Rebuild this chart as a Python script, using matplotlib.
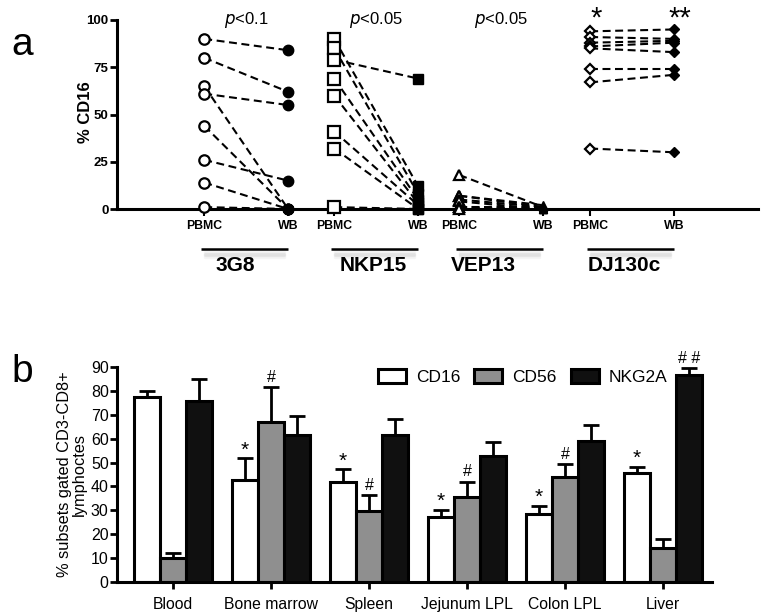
import matplotlib
matplotlib.use("Agg")
import matplotlib.pyplot as plt
import numpy as np

plt.rcParams['font.family'] = ['Liberation Sans', 'DejaVu Sans']

# ---------------- Panel a data ----------------
groups = ["3G8", "NKP15", "VEP13", "DJ130c"]
pvals = ["<0.1", "<0.05", "<0.05", None]
g3_pbmc = [90, 80, 65, 61, 44, 26, 14, 1]
g3_wb = [84, 62, 0, 55, 0, 15, 0, 0]
nk_pbmc = [90, 85, 79, 69, 60, 41, 32, 1]
nk_wb = [12, 8, 69, 5, 3, 2, 0, 0]
vep_pbmc = [18, 7, 7, 5, 4, 1, 1, 0]
vep_wb = [1, 2, 1, 1, 0, 0, 1, 0]
dj_pbmc = [94, 91, 88, 86, 85, 74, 67, 32]
dj_wb = [95, 90, 89, 88, 83, 74, 71, 30]
conditions = ["PBMC", "WB"]

# ---------------- Panel b data ----------------
tissues = ["Blood", "Bone marrow", "Spleen", "Jejunum LPL", "Colon LPL", "Liver"]
cd16 = [77.7, 42.7, 42.0, 27.3, 28.3, 45.8]
cd16_err = [2.5, 9.1, 5.2, 2.8, 3.5, 2.5]
cd56 = [9.8, 66.9, 29.8, 35.4, 43.8, 14.0]
cd56_err = [2.1, 14.7, 6.6, 6.6, 5.5, 3.8]
nkg2a = [76.0, 61.6, 61.6, 52.8, 58.9, 86.8]
nkg2a_err = [9.0, 8.0, 6.6, 5.7, 6.9, 2.8]
cd16_sig = ["", "*", "*", "*", "*", "*"]
cd56_sig = ["", "#", "#", "#", "#", ""]
nkg2a_sig = ["", "", "", "", "", "# #"]

W, H = 764, 615
fig = plt.figure(figsize=(W / 100, H / 100), dpi=100)

def frac(x0, y0, x1, y1):
    return [x0 / W, 1 - y1 / H, (x1 - x0) / W, (y1 - y0) / H]

# ================= Panel a =================
ax = fig.add_axes(frac(117, 20, 758, 209))
xpos = [(1, 2), (2.55, 3.55), (4.04, 5.04), (5.6, 6.6)]
label_off = [0.37, 0.46, 0.29, 0.40]
data = [(g3_pbmc, g3_wb), (nk_pbmc, nk_wb), (vep_pbmc, vep_wb), (dj_pbmc, dj_wb)]
mk = ["o", "s", "^", "D"]
msz = [7.5, 8, 7, 5.5]
msz_wb = [7.5, 7, 6, 4.8]
for (xp, xw), (pb, wb), m, s, sw in zip(xpos, data, mk, msz, msz_wb):
    for a, b in zip(pb, wb):
        ax.plot([xp, xw], [a, b], ls=(0, (3.8, 2.2)), color="black", lw=1.5,
                clip_on=False, zorder=2)
    ax.plot([xp] * len(pb), pb, ls="none", marker=m, ms=s, mfc="white",
            mec="black", mew=1.6, clip_on=False, zorder=3)
    ax.plot([xw] * len(wb), wb, ls="none", marker=m, ms=sw, mfc="black",
            mec="black", mew=1.0, clip_on=False, zorder=3)

ax.set_xlim(-0.04, 7.6)
ax.set_ylim(0, 100)
ax.set_yticks([0, 25, 50, 75, 100])
ax.set_yticklabels(["0", "25", "50", "75", "100"], fontsize=9.5, fontweight="bold")
ticks = [x for pair in xpos for x in pair]
ax.set_xticks(ticks)
ax.set_xticklabels(conditions * 4, fontsize=8.8, fontweight="bold")
for sp in ["top", "right"]:
    ax.spines[sp].set_visible(False)
for sp in ["left", "bottom"]:
    ax.spines[sp].set_linewidth(2.2)
ax.tick_params(axis="y", length=5, width=2, pad=1)
ax.tick_params(axis="x", length=5, width=1.5, pad=3)
ax.set_ylabel("% CD16", fontsize=12, fontweight="bold")
ax.yaxis.set_label_coords(-0.037, 0.51)

tr = ax.get_xaxis_transform()
for (xp, xw), g, p, lo in zip(xpos, groups, pvals, label_off):
    x0 = xp - 0.04
    x1 = xw
    for dy, al in [(-0.228, 0.10), (-0.236, 0.14), (-0.244, 0.14), (-0.252, 0.09)]:
        ax.plot([x0 + 0.05, x1 - 0.05], [dy, dy], transform=tr, color="#9a9a9a", lw=2.5,
                alpha=al, clip_on=False, solid_capstyle="round")
    ax.plot([x0, x1], [-0.212, -0.212], transform=tr, color="black", lw=1.8,
            clip_on=False, solid_capstyle="butt")
    ax.text(xp + lo, -0.30, g, transform=tr, ha="center", va="center",
            fontsize=15, fontweight="bold")
    if p is not None:
        ax.text((xp + xw) / 2, 1.0, r"$\it{p}$" + p, transform=tr, ha="center",
                va="center", fontsize=12)
ax.text(xpos[3][0] + 0.07, 1.01, "*", transform=tr, ha="center", va="center", fontsize=21)
ax.text(xpos[3][1] + 0.07, 1.01, "**", transform=tr, ha="center", va="center", fontsize=21)

fig.text(22 / W, 1 - 45 / H, "a", fontsize=28, ha="center", va="center")

# ================= Panel b =================
bx = fig.add_axes(frac(117, 367.3, 712, 581.7))
x = np.arange(len(tissues))
bw = 0.26
offs = [-0.265, 0.0, 0.265]
series = [(cd16, cd16_err, "white", cd16_sig, "CD16"),
          (cd56, cd56_err, "#8f8f8f", cd56_sig, "CD56"),
          (nkg2a, nkg2a_err, "#101010", nkg2a_sig, "NKG2A")]
for (vals, errs, col, sig, lab), o in zip(series, offs):
    bx.bar(x + o, vals, width=bw, color=col, edgecolor="black", linewidth=2.2,
           yerr=[np.zeros(len(errs)), errs], capsize=5.5,
           error_kw=dict(elinewidth=2, capthick=2, ecolor="black"),
           label=lab, zorder=2)
    for xi, v, e, s in zip(x, vals, errs, sig):
        if s:
            if s == "*":
                bx.text(xi + o, v + e - 0.5, s, ha="center", va="bottom", fontsize=15)
            else:
                bx.text(xi + o, v + e + 1.0, s, ha="center", va="bottom", fontsize=11.5)

bx.set_xlim(-0.571, 5.5)
bx.set_ylim(0, 90)
bx.set_yticks(np.arange(0, 91, 10))
bx.tick_params(axis="y", labelsize=11.5, length=5, width=2, pad=1)
bx.set_xticks(x)
bx.set_xticklabels(tissues, fontsize=11.3)
bx.tick_params(axis="x", length=5, width=2, pad=6)
for sp in ["top", "right"]:
    bx.spines[sp].set_visible(False)
for sp in ["left", "bottom"]:
    bx.spines[sp].set_linewidth(2.2)
bx.set_ylabel("% subsets gated CD3-CD8+\nlymphoctes", fontsize=11.8,
              linespacing=1.0)
bx.yaxis.set_label_coords(-0.05, 0.5)
leg = bx.legend(loc="upper center", bbox_to_anchor=(0.682, 1.065), ncol=3,
                frameon=False, fontsize=12.5, handlelength=1.6, handleheight=0.9,
                columnspacing=0.8, handletextpad=0.6)

fig.text(22 / W, 1 - 372 / H, "b", fontsize=28, ha="center", va="center")

fig.savefig("out.png", dpi=100)
